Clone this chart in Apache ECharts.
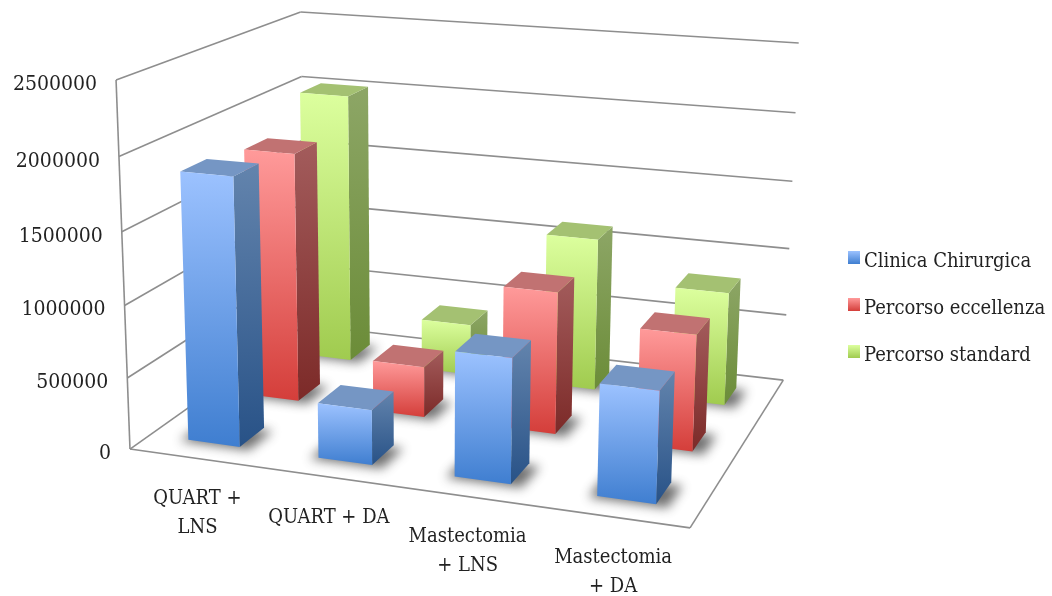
<!DOCTYPE html>
<html>
<head>
<meta charset="utf-8">
<style>html,body{margin:0;padding:0;background:#fff}#chart{width:1052px;height:596px}</style>
<script src="https://cdn.jsdelivr.net/npm/echarts@6/dist/echarts.min.js"></script>
</head>
<body>
<div id="chart"></div>
<script>
// Chart values
const categories = ['QUART +\nLNS', 'QUART + DA', 'Mastectomia\n+ LNS', 'Mastectomia\n+ DA'];
const clinicaChirurgica = [1860000, 380000, 848000, 748000];
const percorsoEccellenza = [1800000, 365000, 1005000, 815000];
const percorsoStandard = [2020000, 380000, 1122000, 826000];
const valueTicks = [0, 500000, 1000000, 1500000, 2000000, 2500000];

// Projection of the unit box (u along categories, v into depth, w up) to the page
const boxCorners = [
  [0, 0, 0, 132, 449], [1, 0, 0, 690, 528], [0, 1, 0, 303, 325], [1, 1, 0, 784, 380],
  [0, 0, 1, 114, 80], [0, 1, 1, 303, 12], [1, 1, 1, 798, 43]
];

function solveProjection(pts) {
  const rows = [], rhs = [];
  pts.forEach(([u, v, w, x, y]) => {
    rows.push([u, v, w, 1, 0, 0, 0, 0, -x * u, -x * v, -x * w]); rhs.push(x);
    rows.push([0, 0, 0, 0, u, v, w, 1, -y * u, -y * v, -y * w]); rhs.push(y);
  });
  const n = 11;
  const m = [];
  for (let i = 0; i < n; i++) {
    m[i] = [];
    for (let j = 0; j < n; j++) {
      m[i][j] = rows.reduce((s, r) => s + r[i] * r[j], 0);
    }
    m[i][n] = rows.reduce((s, r, k) => s + r[i] * rhs[k], 0);
  }
  for (let c = 0; c < n; c++) {
    let p = c;
    for (let r = c + 1; r < n; r++) if (Math.abs(m[r][c]) > Math.abs(m[p][c])) p = r;
    [m[c], m[p]] = [m[p], m[c]];
    for (let r = 0; r < n; r++) {
      if (r === c) continue;
      const f = m[r][c] / m[c][c];
      for (let k = c; k <= n; k++) m[r][k] -= f * m[c][k];
    }
  }
  return m.map((row, i) => row[n] / row[i]);
}

const P = solveProjection(boxCorners);
function project(u, v, w) {
  const d = P[8] * u + P[9] * v + P[10] * w + 1;
  return [(P[0] * u + P[1] * v + P[2] * w + P[3]) / d, (P[4] * u + P[5] * v + P[6] * w + P[7]) / d];
}

const vGrad = (top, bottom) => ({
  type: 'linear', x: 0, y: 0, x2: 0, y2: 1,
  colorStops: [{ offset: 0, color: top }, { offset: 1, color: bottom }]
});

const rowCount = 3;
const barShare = 0.4;
const lineColor = '#8e8e8e';
const textFamily = '"DejaVu Serif Condensed", "DejaVu Serif", serif';
// The contact shadow is cast from a copy of the footprint parked off the canvas
const shadowShift = 3000;

function barSeries(name, values, row, look) {
  return {
    name,
    type: 'custom',
    coordinateSystem: 'cartesian2d',
    z: 10 - row,
    itemStyle: { color: vGrad(look.frontTop, look.frontBottom) },
    data: values.map((value, i) => [i, value]),
    encode: { x: 0, y: 1 },
    renderItem(params, api) {
      const box = params.coordSys;
      const top = api.coord([api.value(0), api.value(1)]);
      const base = api.coord([api.value(0), 0]);
      const band = api.size([1, 0])[0] / box.width;
      const uc = (top[0] - box.x) / box.width;
      const w1 = (box.y + box.height - top[1]) / box.height;
      const w0 = (box.y + box.height - base[1]) / box.height;
      const u0 = uc - band * barShare / 2, u1 = uc + band * barShare / 2;
      const v0 = (row + 0.5 - barShare / 2) / rowCount, v1 = (row + 0.5 + barShare / 2) / rowCount;
      const face = (pts, fill) => ({ type: 'polygon', shape: { points: pts }, style: { fill } });
      const su = 0.012, sv = 0.012;
      const footprint = [
        project(u0 - su, v0 - sv, w0), project(u1 + su * 1.8, v0 - sv, w0),
        project(u1 + su * 1.8, v1 - sv, w0), project(u0 - su, v1 - sv, w0)
      ].map(p => [p[0] - shadowShift, p[1]]);
      return {
        type: 'group',
        children: [
          {
            type: 'polygon',
            shape: { points: footprint },
            style: {
              fill: '#000', shadowBlur: 11, shadowOffsetX: shadowShift,
              shadowColor: 'rgba(50,50,50,0.7)'
            }
          },
          face([project(u1, v0, w0), project(u1, v1, w0), project(u1, v1, w1), project(u1, v0, w1)],
               vGrad(look.sideTop, look.sideBottom)),
          face([project(u0, v0, w1), project(u1, v0, w1), project(u1, v1, w1), project(u0, v1, w1)],
               look.cap),
          face([project(u0, v0, w0), project(u1, v0, w0), project(u1, v0, w1), project(u0, v0, w1)],
               vGrad(look.frontTop, look.frontBottom))
        ]
      };
    }
  };
}

const line = (a, b) => ({
  type: 'line',
  shape: { x1: a[0], y1: a[1], x2: b[0], y2: b[1] },
  style: { stroke: lineColor, lineWidth: 1.6 }
});

const wallSeries = {
  type: 'custom',
  coordinateSystem: 'cartesian2d',
  z: 1,
  silent: true,
  data: valueTicks.map(t => [0, t]),
  encode: { x: 0, y: 1 },
  renderItem(params, api) {
    const box = params.coordSys;
    const tick = api.value(1);
    const w = (box.y + box.height - api.coord([0, tick])[1]) / box.height;
    const front = project(0, 0, w);
    const children = [
      line(front, project(0, 1, w)),
      line(project(0, 1, w), project(1, 1, w)),
      {
        type: 'text',
        style: {
          text: String(tick), x: front[0] - 19, y: front[1] + 4.5,
          fill: '#222', fontFamily: textFamily, fontSize: 21, align: 'right', verticalAlign: 'middle'
        }
      }
    ];
    if (tick === 0) {
      children.push(line(project(0, 0, 0), project(1, 0, 0)));
      children.push(line(project(1, 0, 0), project(1, 1, 0)));
      children.push(line(project(0, 0, 0), project(0, 0, 1)));
    }
    return { type: 'group', children };
  }
};

// Horizontal shift of each category caption from its band centre
const captionShift = [3, 1, 0, -1];

const captionSeries = {
  type: 'custom',
  coordinateSystem: 'cartesian2d',
  z: 20,
  silent: true,
  data: categories.map((c, i) => [i, 0]),
  encode: { x: 0, y: 1 },
  renderItem(params, api) {
    const box = params.coordSys;
    const i = api.value(0);
    const uc = (api.coord([i, 0])[0] - box.x) / box.width;
    const p = project(uc, 0, 0);
    return {
      type: 'text',
      style: {
        text: categories[i], x: p[0] + captionShift[i], y: p[1] + 26,
        fill: '#222', fontFamily: textFamily, fontSize: 20, lineHeight: 29,
        align: 'center', verticalAlign: 'top'
      }
    };
  }
};

const chart = echarts.init(document.getElementById('chart'));
chart.setOption({
  animation: false,
  backgroundColor: '#fff',
  grid: { left: 0, top: 0, width: 1052, height: 596 },
  xAxis: { type: 'category', data: categories, show: false },
  yAxis: { type: 'value', min: 0, max: 2500000, interval: 500000, show: false },
  legend: {
    orient: 'vertical', left: 843, top: 238, itemWidth: 12, itemHeight: 13, itemGap: 18,
    icon: 'rect', selectedMode: false,
    data: ['Clinica Chirurgica', 'Percorso eccellenza', 'Percorso standard'],
    formatter: name => '{t|' + name + '}',
    textStyle: {
      rich: {
        t: { fontFamily: textFamily, fontSize: 20, color: '#222', lineHeight: 20, padding: [9, 0, 0, -1] }
      }
    }
  },
  series: [
    wallSeries,
    barSeries('Clinica Chirurgica', clinicaChirurgica, 0, {
      frontTop: '#9cc2ff', frontBottom: '#3f7ed0', sideTop: '#6384ad', sideBottom: '#285287', cap: '#7596c4'
    }),
    barSeries('Percorso eccellenza', percorsoEccellenza, 1, {
      frontTop: '#ff9a9a', frontBottom: '#d43e3a', sideTop: '#a35c5c', sideBottom: '#7c2a28', cap: '#c17272'
    }),
    barSeries('Percorso standard', percorsoStandard, 2, {
      frontTop: '#dcff9e', frontBottom: '#a0cb4f', sideTop: '#8da666', sideBottom: '#6b8c38', cap: '#a4c172'
    }),
    captionSeries
  ]
});
</script>
</body>
</html>
